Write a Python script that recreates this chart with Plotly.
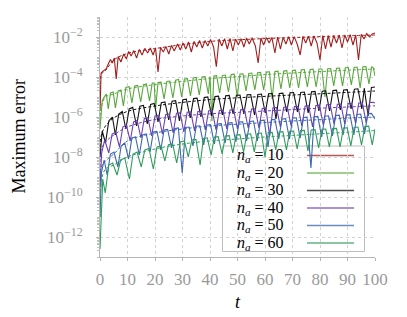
import plotly.graph_objects as go

# ---------------- data (log10 of maximum error) ----------------
n_a = [10, 20, 30, 40, 50, 60]
colors = ["#a21e1e", "#58a83c", "#111111", "#6a3fb2", "#3b66b0", "#2e9c5c"]

t_10 = [0.0,0.4,1.0,1.6,2.3,3.0,3.8,4.5,5.2,5.9,6.6,7.6,8.6,9.6,10.4,11.3,12.3,13.3,14.3,15.3,
        16.3,17.3,18.3,19.3,20.2,21.1,22.0,23.0,24.0,25.0,26.0,27.0,28.2,29.2,30.2,31.2,32.2,33.2,34.2,35.2,
        36.2,37.2,38.2,39.2,40.2,41.3,42.3,43.3,44.3,45.3,46.3,47.3,48.3,49.3,50.3,51.3,52.3,53.3,54.3,55.3,
        56.5,57.5,58.5,59.5,60.5,61.5,62.5,63.6,64.6,65.6,66.6,67.6,68.6,69.6,70.6,71.7,72.8,73.8,74.8,75.8,
        76.8,77.8,78.9,80.0,81.0,82.0,83.0,84.0,85.0,86.0,87.0,88.0,89.0,90.0,91.0,92.0,93.0,94.0,95.0,96.0,
        97.0,98.0,99.0,100.0]
log_err_10 = [-5.7,-3.8,-3.72,-3.66,-3.58,-3.35,-3.12,-3.3,-3.05,-4.1,-2.98,-3.25,-2.85,-3.1,-2.72,-2.95,-2.68,-3.05,-2.62,-2.9,
              -2.57,-2.8,-2.55,-2.9,-2.55,-3.75,-2.52,-2.75,-2.48,-2.85,-2.42,-2.7,-2.35,-2.65,-2.3,-2.6,-2.25,-2.75,-2.22,-2.5,
              -2.17,-2.55,-2.18,-2.45,-2.12,-2.5,-3.48,-2.1,-2.45,-2.08,-2.6,-2.07,-2.7,-2.1,-2.4,-2.08,-2.5,-2.06,-2.35,-2.05,
              -2.45,-3.3,-2.05,-2.4,-2.03,-2.3,-2.02,-2.8,-2.0,-2.6,-2.02,-2.35,-1.98,-2.4,-1.98,-2.35,-2.9,-1.97,-2.3,-1.96,
              -2.45,-1.95,-2.3,-3.15,-1.93,-2.6,-1.93,-2.5,-1.92,-2.3,-1.9,-2.55,-1.9,-2.25,-1.88,-2.4,-1.9,-3.15,-1.87,-2.1,
              -1.83,-2.0,-1.85,-1.8]

t_20 = [0.0,0.8,1.5,2.3,3.0,3.8,4.8,5.6,6.6,7.6,8.5,9.4,10.6,11.6,12.6,13.7,14.8,15.8,16.9,18.0,
        19.0,19.7,20.2,21.1,22.2,23.3,24.3,25.4,26.5,27.5,28.6,29.7,30.7,31.8,32.9,33.9,35.0,36.1,37.1,38.2,
        39.4,40.0,40.7,41.4,42.4,43.5,44.5,45.6,46.7,47.7,48.8,49.9,50.9,52.0,53.1,54.1,55.2,56.3,57.3,58.4,
        59.5,60.5,61.6,62.6,63.6,64.7,65.8,66.8,67.9,69.0,70.0,71.1,72.2,73.2,74.3,75.4,76.4,77.5,78.6,79.6,
        80.7,81.8,82.8,83.9,85.0,86.0,87.1,88.2,89.2,90.3,91.4,92.4,93.5,94.6,95.6,96.7,97.8,98.8,99.4,100.0]
log_err_20 = [-6.6,-5.2,-5.0,-4.85,-5.6,-4.8,-4.75,-5.55,-4.7,-4.65,-5.45,-4.52,-4.48,-5.3,-4.45,-4.42,-5.25,-4.38,-4.35,-5.2,
              -4.3,-4.3,-5.6,-4.28,-4.26,-5.1,-4.22,-4.2,-5.05,-4.16,-4.12,-5.0,-4.1,-4.08,-4.95,-4.05,-4.02,-4.9,-4.0,-3.98,
              -4.85,-3.97,-6.2,-3.95,-3.93,-4.8,-3.92,-3.9,-4.75,-3.88,-3.86,-5.0,-3.85,-3.84,-4.7,-3.82,-3.8,-4.65,-3.79,-3.77,
              -4.65,-3.75,-3.74,-5.1,-3.72,-3.71,-4.6,-3.7,-3.68,-4.55,-3.67,-3.66,-4.55,-3.64,-3.63,-4.5,-3.62,-3.61,-4.5,-3.6,
              -3.6,-5.0,-3.59,-3.58,-4.45,-3.56,-3.55,-4.45,-3.54,-3.53,-4.4,-3.52,-3.5,-4.55,-3.49,-3.48,-4.35,-3.48,-3.55,-3.95]

t_30 = [0.0,0.8,2.0,3.2,4.5,5.6,6.8,8.1,9.4,10.6,11.9,13.3,14.5,15.8,17.2,18.4,19.7,21.1,22.3,23.6,
        25.0,26.2,27.5,28.9,30.1,31.4,32.8,34.0,35.3,36.7,37.9,39.2,40.6,41.8,43.1,44.5,45.7,47.0,48.4,49.6,
        50.9,52.3,53.5,54.8,56.2,57.4,58.7,60.1,61.3,62.6,64.0,65.2,66.5,67.9,69.1,70.4,71.8,73.0,74.3,75.7,
        76.9,78.2,79.6,80.8,82.1,83.5,84.7,86.0,87.4,88.6,89.9,91.3,92.5,93.8,95.2,96.1,97.5,98.7,100.0]
log_err_30 = [-8.0,-6.7,-7.3,-6.2,-6.0,-6.9,-5.85,-5.72,-6.6,-5.6,-5.52,-6.45,-5.46,-5.42,-6.35,-5.37,-5.32,-6.25,-5.29,-5.25,
              -6.15,-5.21,-5.18,-6.2,-5.14,-5.11,-6.05,-5.08,-5.06,-6.0,-5.03,-5.0,-5.95,-4.98,-4.96,-5.9,-4.94,-4.92,-5.85,-4.91,
              -4.9,-5.85,-4.89,-4.88,-5.9,-4.87,-4.85,-5.8,-4.84,-4.83,-6.1,-4.82,-4.81,-5.75,-4.79,-4.78,-5.75,-4.77,-4.75,-5.8,
              -4.74,-4.72,-5.7,-4.71,-4.69,-5.7,-4.68,-4.66,-5.65,-4.65,-4.63,-5.6,-4.61,-4.59,-5.6,-4.56,-5.95,-4.52,-4.5]

t_40 = [0.0,0.6,1.7,3.2,4.4,5.7,7.1,8.3,9.6,11.0,12.2,13.5,14.9,16.1,17.4,18.8,20.0,21.3,22.7,23.9,
        25.2,26.6,27.8,29.1,30.5,31.7,33.0,34.4,35.6,36.9,38.3,39.5,40.8,42.2,43.4,44.7,46.1,47.3,48.6,50.0,
        51.2,52.5,53.9,55.1,56.4,57.8,59.0,60.3,61.7,62.9,64.2,65.6,66.8,68.1,69.5,70.7,72.0,73.4,74.6,75.9,
        77.3,78.5,79.8,81.2,82.4,83.7,85.1,86.3,87.6,89.0,90.2,91.5,92.9,94.1,95.4,96.8,98.0,99.3,100.0]
log_err_40 = [-9.5,-7.8,-7.15,-7.8,-6.85,-6.75,-7.5,-6.5,-6.4,-7.2,-6.25,-6.18,-7.05,-6.08,-6.03,-6.95,-5.95,-5.92,-6.85,-5.87,
              -5.85,-6.8,-5.81,-5.79,-6.75,-5.76,-5.74,-6.7,-5.72,-5.71,-6.65,-5.69,-5.68,-6.65,-5.67,-5.66,-6.6,-5.65,-5.64,-6.6,
              -5.63,-5.62,-6.55,-5.6,-5.59,-6.55,-5.57,-5.56,-6.95,-5.54,-5.53,-6.5,-5.51,-5.5,-6.45,-5.48,-5.47,-6.45,-5.45,-5.44,
              -6.5,-5.42,-5.41,-6.4,-5.39,-5.38,-6.35,-5.36,-5.35,-6.35,-5.33,-5.32,-6.3,-5.3,-5.29,-6.3,-5.27,-5.26,-5.3]

t_50 = [0.0,0.5,1.5,2.6,3.8,5.1,6.5,7.7,9.0,10.4,11.6,12.9,14.3,15.5,16.8,18.2,19.4,20.7,22.1,23.3,
        24.6,26.0,27.2,28.5,29.9,31.1,32.4,33.8,35.0,36.3,37.7,38.9,40.2,41.6,42.8,44.1,45.5,46.7,48.0,49.4,
        50.6,51.9,53.3,54.5,55.8,57.2,58.4,59.7,61.1,62.3,63.6,65.0,66.2,67.5,68.9,70.1,71.4,72.8,74.0,75.3,
        76.7,77.9,79.2,80.6,81.8,83.1,84.5,85.7,87.0,88.4,89.6,90.9,92.3,93.5,94.8,96.2,97.4,98.7,100.0]
log_err_50 = [-11.0,-8.8,-8.15,-8.9,-7.85,-7.75,-8.5,-7.45,-7.3,-8.1,-7.05,-7.0,-7.9,-6.9,-6.85,-7.75,-6.75,-6.72,-7.65,-6.65,
              -6.62,-7.55,-6.58,-6.55,-8.8,-6.52,-6.5,-7.45,-6.46,-6.44,-7.4,-6.4,-6.38,-7.35,-6.35,-6.33,-7.3,-6.3,-6.28,-7.25,
              -6.25,-6.24,-7.2,-6.22,-6.2,-7.2,-6.18,-6.16,-7.5,-6.14,-6.12,-7.1,-6.1,-6.08,-7.1,-6.05,-6.04,-7.05,-6.02,-6.01,
              -8.55,-5.99,-5.97,-7.0,-5.96,-5.94,-6.95,-5.93,-5.91,-6.9,-5.9,-5.88,-6.9,-5.87,-5.85,-6.85,-5.84,-5.82,-6.1]

t_60 = [0.0,1.0,1.9,3.2,4.6,6.2,7.5,9.0,10.7,12.0,13.5,15.0,16.3,17.8,19.4,20.7,22.2,23.6,24.9,26.4,
        27.9,29.2,30.7,32.1,33.4,34.9,36.4,37.6,39.0,40.4,41.6,43.0,44.4,45.6,47.0,48.3,49.5,50.9,52.2,53.4,
        54.8,56.1,57.3,58.7,60.0,61.2,62.6,63.9,65.1,66.5,67.8,69.0,70.4,71.7,72.9,74.3,75.6,76.8,78.2,79.5,
        80.7,82.1,83.4,84.6,86.0,87.3,88.5,89.9,91.2,92.4,93.8,95.1,96.3,97.7,99.0,100.0]
log_err_60 = [-12.6,-9.1,-9.8,-8.4,-8.3,-8.9,-8.15,-8.05,-9.1,-7.85,-7.75,-8.5,-7.65,-7.57,-8.6,-7.5,-7.45,-8.2,-7.38,-7.33,
              -8.3,-7.25,-7.2,-8.0,-7.15,-7.12,-8.4,-7.07,-7.04,-7.9,-7.0,-6.98,-7.85,-6.95,-6.93,-7.8,-6.9,-6.88,-7.75,-6.86,
              -6.84,-7.75,-6.82,-6.8,-8.0,-6.78,-6.77,-7.65,-6.75,-6.73,-7.65,-6.71,-6.7,-7.6,-6.68,-6.67,-7.7,-6.65,-6.63,-7.55,
              -6.61,-6.6,-7.5,-6.58,-6.57,-7.5,-6.55,-6.54,-7.45,-6.52,-6.5,-7.4,-6.48,-6.46,-7.4,-6.6]

# dashed (smooth) estimates, shared time samples
t_est = [0, 0.5, 2, 5, 10, 20, 30, 40, 50, 60, 70, 80, 90, 100]
log_est_10 = [-4.6, -3.85, -3.68, -3.15, -2.82, -2.58, -2.38, -2.22, -2.14, -2.08, -2.03, -1.98, -1.94, -1.9]
log_est_20 = [-6.2, -5.5, -5.0, -4.85, -4.6, -4.38, -4.22, -4.08, -3.98, -3.88, -3.8, -3.73, -3.66, -3.6]
log_est_30 = [-7.5, -6.9, -6.45, -6.05, -5.72, -5.45, -5.27, -5.13, -5.04, -4.97, -4.9, -4.84, -4.77, -4.7]
log_est_40 = [-8.5, -7.6, -7.25, -6.9, -6.5, -6.12, -5.95, -5.84, -5.77, -5.7, -5.63, -5.56, -5.5, -5.44]
log_est_50 = [-9.5, -8.5, -8.2, -7.85, -7.2, -6.8, -6.6, -6.45, -6.36, -6.28, -6.2, -6.13, -6.06, -6.0]
log_est_60 = [-11.0, -9.2, -8.6, -8.4, -8.0, -7.6, -7.35, -7.2, -7.1, -7.0, -6.92, -6.84, -6.76, -6.68]

y_tick_exp = [-12, -10, -8, -6, -4, -2]
x_ticks = [0, 10, 20, 30, 40, 50, 60, 70, 80, 90, 100]

series_t = [t_10, t_20, t_30, t_40, t_50, t_60]
series_l = [log_err_10, log_err_20, log_err_30, log_err_40, log_err_50, log_err_60]
est_l = [log_est_10, log_est_20, log_est_30, log_est_40, log_est_50, log_est_60]

# ---------------- figure ----------------
# the page body has an 8px default margin, so the figure is drawn 8px in and 8px down
OFF = 8
W, H = 407 - OFF, 317 - OFF
PW, PH = 275, 240                # plot area in px
ML, MT = 100 - OFF, 17 - OFF      # plot area origin in page pixels: (100, 17)
MR, MB = W - ML - PW, H - MT - PH
FONT = "Liberation Serif, serif"
GRAY = "#9a9a9a"

def px_x(px):   # page pixel -> paper x
    return (px - OFF - ML) / PW

def px_y(py):   # page pixel -> paper y
    return (MT + PH - (py - OFF)) / PH

fig = go.Figure()
for i in range(6):
    fig.add_trace(go.Scatter(x=series_t[i], y=[10 ** v for v in series_l[i]], mode="lines",
                             line=dict(color=colors[i], width=1.1), showlegend=False))
    fig.add_trace(go.Scatter(x=t_est, y=[10 ** v for v in est_l[i]], mode="lines",
                             line=dict(color=colors[i], width=1, dash="3px,2px", shape="spline"),
                             showlegend=False))

minor_vals = [k * 10.0 ** e for e in range(-13, -1) for k in range(1, 10)]

fig.update_layout(
    width=W, height=H, margin=dict(l=ML, r=MR, t=MT, b=MB, autoexpand=False),
    paper_bgcolor="white", plot_bgcolor="white",
    font=dict(family=FONT, size=17, color=GRAY),
    showlegend=False,
    xaxis=dict(range=[0, 100], tickmode="array", tickvals=x_ticks, ticks="outside", ticklen=3,
               tickcolor="#b5b5b5", showline=True, linecolor="#b5b5b5", linewidth=1,
               showgrid=True, gridcolor="#d2d2d2", griddash="dot", gridwidth=1, zeroline=False,
               tickfont=dict(family=FONT, size=17, color=GRAY), ticklabelstandoff=4),
    yaxis=dict(type="log", range=[-13, -1], tickmode="array",
               tickvals=[10.0 ** e for e in y_tick_exp],
               ticktext=["10<sup>\u2212%d</sup>" % (-e) for e in y_tick_exp],
               ticks="outside", ticklen=3, tickcolor="#b5b5b5", showline=True, linecolor="#b5b5b5",
               showgrid=True, gridcolor="#d2d2d2", griddash="dot", gridwidth=1, zeroline=False,
               tickfont=dict(family=FONT, size=17, color=GRAY), ticklabelstandoff=10,
               minor=dict(tickmode="array", tickvals=minor_vals, ticks="outside", ticklen=2,
                          tickcolor="#c0c0c0", showgrid=False)),
)

# axis titles
fig.add_annotation(text="Maximum error", x=px_x(18.5), y=px_y(137), xref="paper", yref="paper",
                   xanchor="center", yanchor="middle",
                   textangle=-90, showarrow=False, font=dict(family=FONT, size=18, color="black"))
fig.add_annotation(text="<i>t</i>", x=px_x(237.5), y=px_y(302), xref="paper", yref="paper",
                   xanchor="center", yanchor="middle",
                   showarrow=False, font=dict(family=FONT, size=18, color="black"))

# legend (text left, line sample right)
lx0, lx1, ly0, ly1 = 222.5, 364.5, 146, 251.5
fig.add_shape(type="rect", xref="paper", yref="paper", x0=px_x(lx0), x1=px_x(lx1),
              y0=px_y(ly1), y1=px_y(ly0), line=dict(color="#bdbdbd", width=1),
              fillcolor="white", layer="between")
row0, drow = 155.5, 17.5
for i, n in enumerate(n_a):
    ry = row0 + i * drow
    fig.add_annotation(text="<i>n</i><sub><i>a</i></sub> = %d" % n, x=px_x(236), y=px_y(ry),
                       xref="paper", yref="paper", xanchor="left", yanchor="middle", showarrow=False,
                       font=dict(family=FONT, size=16, color="black"), borderpad=0)
    fig.add_shape(type="line", xref="paper", yref="paper", x0=px_x(307), x1=px_x(354),
                  y0=px_y(ry), y1=px_y(ry), line=dict(color=colors[i], width=1.3),
                  opacity=0.75, layer="between")

fig.write_html("out.html")
